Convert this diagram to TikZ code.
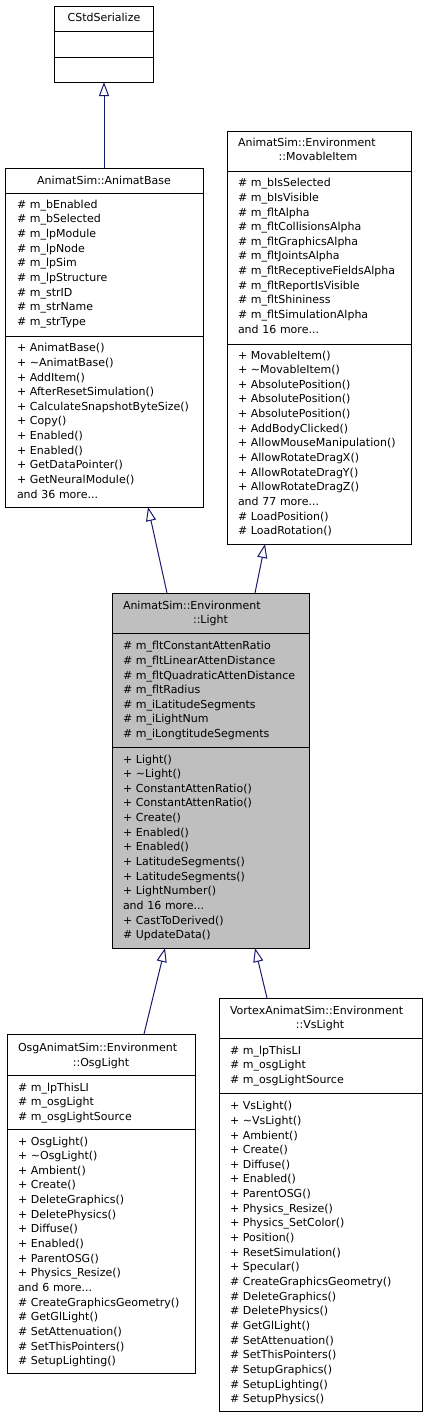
\documentclass[tikz,border=0pt]{standalone}
\usepackage{fontspec}
\setmainfont{DejaVu Sans}
\usetikzlibrary{arrows.meta}
\definecolor{edgeblue}{RGB}{25,25,112}
\definecolor{lightfill}{RGB}{191,191,191}
\newcommand{\mfont}{\fontsize{11}{14.65}\selectfont}
\begin{document}
\begin{tikzpicture}[x=1pt,y=-1pt,
  classbox/.style={draw=black, line width=1pt, fill=white, rectangle, inner sep=0pt, outer sep=0pt, anchor=north west},
  divider/.style={draw=black, line width=1pt},
  members/.style={anchor=base west, inner sep=0pt, outer sep=0pt, text width=200pt, align=left, font=\mfont},
  ttl/.style={anchor=base, inner sep=0pt, outer sep=0pt, font=\mfont},
  ttlL/.style={anchor=base west, inner sep=0pt, outer sep=0pt, font=\mfont},
  inherit/.style={draw=edgeblue, line width=1pt, -{Triangle[open, length=14pt, width=10pt]}}
]
\useasboundingbox[fill=white] (0,0) rectangle (427,1417);

% ---------- CStdSerialize
\node[classbox, minimum width=99pt, minimum height=76pt] (cs) at (54.5,6) {};
\draw[divider] (cs.west |- 0,31) -- (cs.east |- 0,31);
\draw[divider] (cs.west |- 0,57) -- (cs.east |- 0,57);
\node[ttl] (csT) at (104,21.5) {CStdSerialize};

% ---------- AnimatBase
\node[classbox, minimum width=198pt, minimum height=339pt] (ab) at (5,168) {};
\draw[divider] (ab.west |- 0,193) -- (ab.east |- 0,193);
\draw[divider] (ab.west |- 0,336) -- (ab.east |- 0,336);
\node[ttl] (abT) at (104,184) {AnimatSim::AnimatBase};
\node[members] (abA) at (17,208.3) {\# m\_bEnabled\\\# m\_bSelected\\\# m\_lpModule\\\# m\_lpNode\\\# m\_lpSim\\\# m\_lpStructure\\\# m\_strID\\\# m\_strName\\\# m\_strType};
\node[members] (abO) at (17,351.7) {+ AnimatBase()\\+ \textasciitilde AnimatBase()\\+ AddItem()\\+ AfterResetSimulation()\\+ CalculateSnapshotByteSize()\\+ Copy()\\+ Enabled()\\+ Enabled()\\+ GetDataPointer()\\+ GetNeuralModule()\\and 36 more...};

% ---------- MovableItem
\node[classbox, minimum width=184pt, minimum height=413pt] (mi) at (227,131) {};
\draw[divider] (mi.west |- 0,171) -- (mi.east |- 0,171);
\draw[divider] (mi.west |- 0,344) -- (mi.east |- 0,344);
\node[ttlL] (miT1) at (238,146) {AnimatSim::Environment};
\node[ttl] (miT2) at (318,160.7) {::MovableItem};
\node[members] (miA) at (238,186.7) {\# m\_bIsSelected\\\# m\_bIsVisible\\\# m\_fltAlpha\\\# m\_fltCollisionsAlpha\\\# m\_fltGraphicsAlpha\\\# m\_fltJointsAlpha\\\# m\_fltReceptiveFieldsAlpha\\\# m\_fltReportIsVisible\\\# m\_fltShininess\\\# m\_fltSimulationAlpha\\and 16 more...};
\node[members] (miO) at (238,359) {+ MovableItem()\\+ \textasciitilde MovableItem()\\+ AbsolutePosition()\\+ AbsolutePosition()\\+ AbsolutePosition()\\+ AddBodyClicked()\\+ AllowMouseManipulation()\\+ AllowRotateDragX()\\+ AllowRotateDragY()\\+ AllowRotateDragZ()\\and 77 more...\\\# LoadPosition()\\\# LoadRotation()};

% ---------- Light
\node[classbox, fill=lightfill, minimum width=197pt, minimum height=355pt] (li) at (112,593) {};
\draw[divider] (li.west |- 0,633) -- (li.east |- 0,633);
\draw[divider] (li.west |- 0,747) -- (li.east |- 0,747);
\node[ttlL] (liT1) at (123,609) {AnimatSim::Environment};
\node[ttl] (liT2) at (210.5,623.7) {::Light};
\node[members] (liA) at (123,649.7) {\# m\_fltConstantAttenRatio\\\# m\_fltLinearAttenDistance\\\# m\_fltQuadraticAttenDistance\\\# m\_fltRadius\\\# m\_iLatitudeSegments\\\# m\_iLightNum\\\# m\_iLongtitudeSegments};
\node[members] (liO) at (123,763) {+ Light()\\+ \textasciitilde Light()\\+ ConstantAttenRatio()\\+ ConstantAttenRatio()\\+ Create()\\+ Enabled()\\+ Enabled()\\+ LatitudeSegments()\\+ LatitudeSegments()\\+ LightNumber()\\and 16 more...\\+ CastToDerived()\\\# UpdateData()};

% ---------- OsgLight
\node[classbox, minimum width=188pt, minimum height=339pt] (ol) at (7,1034) {};
\draw[divider] (ol.west |- 0,1075) -- (ol.east |- 0,1075);
\draw[divider] (ol.west |- 0,1129) -- (ol.east |- 0,1129);
\node[ttlL] (olT1) at (18,1051.3) {OsgAnimatSim::Environment};
\node[ttl] (olT2) at (101,1066) {::OsgLight};
\node[members] (olA) at (18,1091) {\# m\_lpThisLI\\\# m\_osgLight\\\# m\_osgLightSource};
\node[members] (olO) at (18,1145) {+ OsgLight()\\+ \textasciitilde OsgLight()\\+ Ambient()\\+ Create()\\+ DeleteGraphics()\\+ DeletePhysics()\\+ Diffuse()\\+ Enabled()\\+ ParentOSG()\\+ Physics\_Resize()\\and 6 more...\\\# CreateGraphicsGeometry()\\\# GetGlLight()\\\# SetAttenuation()\\\# SetThisPointers()\\\# SetupLighting()};

% ---------- VsLight
\node[classbox, minimum width=203pt, minimum height=413pt] (vl) at (219,998) {};
\draw[divider] (vl.west |- 0,1038) -- (vl.east |- 0,1038);
\draw[divider] (vl.west |- 0,1093) -- (vl.east |- 0,1093);
\node[ttlL] (vlT1) at (230,1014) {VortexAnimatSim::Environment};
\node[ttl] (vlT2) at (320,1028.7) {::VsLight};
\node[members] (vlA) at (230,1054) {\# m\_lpThisLI\\\# m\_osgLight\\\# m\_osgLightSource};
\node[members] (vlO) at (230,1109.7) {+ VsLight()\\+ \textasciitilde VsLight()\\+ Ambient()\\+ Create()\\+ Diffuse()\\+ Enabled()\\+ ParentOSG()\\+ Physics\_Resize()\\+ Physics\_SetColor()\\+ Position()\\+ ResetSimulation()\\+ Specular()\\\# CreateGraphicsGeometry()\\\# DeleteGraphics()\\\# DeletePhysics()\\\# GetGlLight()\\\# SetAttenuation()\\\# SetThisPointers()\\\# SetupGraphics()\\\# SetupLighting()\\\# SetupPhysics()};

% ---------- connector end points
\coordinate (liTopA) at (167,593);
\coordinate (abBot) at (148,507);
\coordinate (liTopB) at (255,593);
\coordinate (miBot) at (265,544);
\coordinate (olTop) at (144,1034);
\coordinate (liBotA) at (165,948);
\coordinate (vlTop) at (267,998);
\coordinate (liBotB) at (255,948);

% ---------- inheritance
\draw[inherit] (ab.north) -- (cs.south);
\draw[inherit] (liTopA) -- (abBot);
\draw[inherit] (liTopB) -- (miBot);
\draw[inherit] (olTop) -- (liBotA);
\draw[inherit] (vlTop) -- (liBotB);
\end{tikzpicture}
\end{document}
